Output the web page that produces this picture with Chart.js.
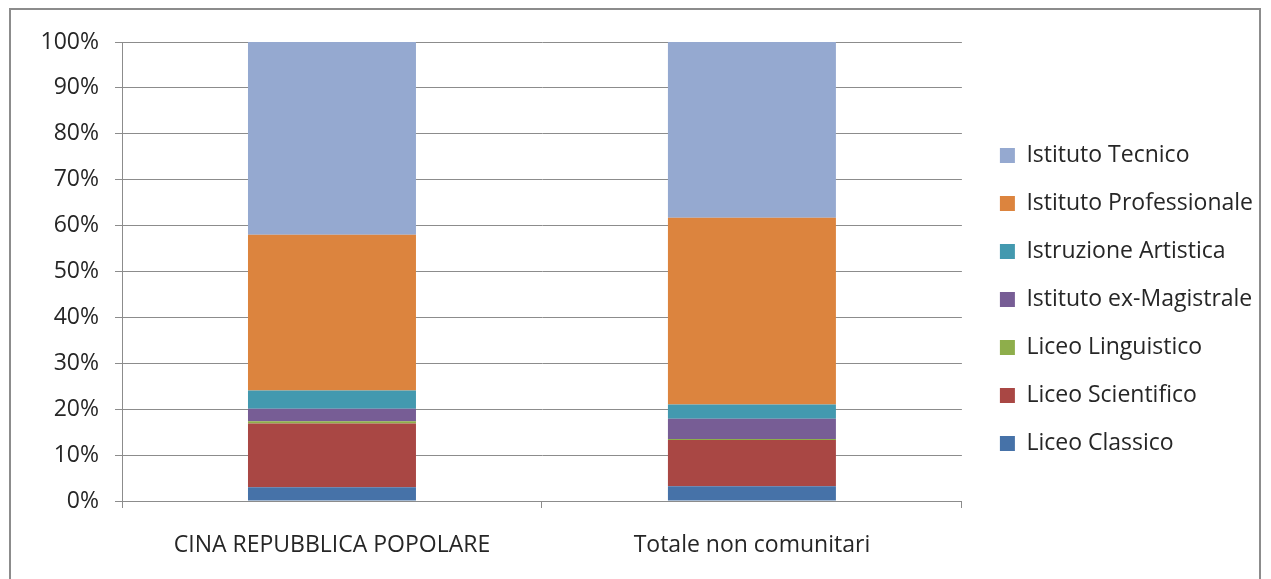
<!DOCTYPE html>
<html>
<head>
<meta charset="utf-8">
<script src="https://cdn.jsdelivr.net/npm/chart.js@4"></script>
<style>
  body { margin: 0; background: #fff; }
  #wrap { position: relative; width: 1271px; height: 579px; }
  #frame { position: absolute; left: 9px; top: 8px; width: 1252px; height: 580px; border: 2px solid #8c8c8c; box-sizing: border-box; }
  canvas { position: absolute; left: 0; top: 0; }
</style>
</head>
<body>
<div id="wrap">
  <div id="frame"></div>
  <canvas id="myChart" width="1271" height="579"></canvas>
</div>
<script>
var categories = ["CINA REPUBBLICA POPOLARE", "Totale non comunitari"];
var seriesNames = ["Liceo Classico", "Liceo Scientifico", "Liceo Linguistico", "Istituto ex-Magistrale", "Istruzione Artistica", "Istituto Professionale", "Istituto Tecnico"];
var liceoClassico = [3.0, 3.2];
var liceoScientifico = [13.9, 10.1];
var liceoLinguistico = [0.5, 0.2];
var istitutoMagistrale = [2.7, 4.4];
var istruzioneArtistica = [4.0, 3.1];
var istitutoProfessionale = [33.9, 40.7];
var istitutoTecnico = [42.0, 38.3];
var colors = ["#4672a8", "#a94744", "#8eae4b", "#775d95", "#4399af", "#dc843e", "#95a9d0"];

var values = [liceoClassico, liceoScientifico, liceoLinguistico, istitutoMagistrale, istruzioneArtistica, istitutoProfessionale, istitutoTecnico];

// push the legend a little to the right, away from the plot
var legendShift = {
    id: 'legendShift',
    afterLayout: function (chart) {
        chart.legend.left += 13;
        chart.legend.right += 13;
    }
};

function renderChart() {
    var ctx = document.getElementById("myChart").getContext('2d');
    var datasets = seriesNames.map(function (name, i) {
        return {
            label: name,
            data: values[i],
            backgroundColor: colors[i],
            borderWidth: 0,
            barPercentage: 0.4,
            categoryPercentage: 1.0
        };
    });
    new Chart(ctx, {
        type: 'bar',
        data: { labels: categories, datasets: datasets },
        plugins: [legendShift],
        options: {
            responsive: false,
            animation: false,
            layout: { padding: { left: 20, top: 42, right: 21, bottom: 22 } },
            plugins: {
                tooltip: { enabled: false },
                legend: {
                    position: 'right',
                    reverse: true,
                    labels: {
                        boxWidth: 15,
                        boxHeight: 15,
                        padding: 25,
                        color: '#262626',
                        font: { family: 'Open Sans', size: 23 }
                    }
                }
            },
            scales: {
                x: {
                    stacked: true,
                    grid: { drawOnChartArea: false, drawTicks: true, tickLength: 7, color: '#8c8c8c' },
                    border: { color: '#8c8c8c' },
                    ticks: { color: '#262626', padding: 24, font: { family: 'Open Sans', size: 23 } },
                    afterFit: function (s) { s.height = 56; }
                },
                y: {
                    stacked: true,
                    min: 0,
                    max: 100,
                    grid: { color: '#8c8c8c', tickLength: 7 },
                    border: { color: '#8c8c8c' },
                    ticks: {
                        stepSize: 10,
                        color: '#262626',
                        padding: 16,
                        font: { family: 'Open Sans', size: 23 },
                        callback: function (v) { return v + '%'; }
                    },
                    afterFit: function (s) { s.width = 102; }
                }
            }
        }
    });
}

renderChart();
</script>
</body>
</html>
